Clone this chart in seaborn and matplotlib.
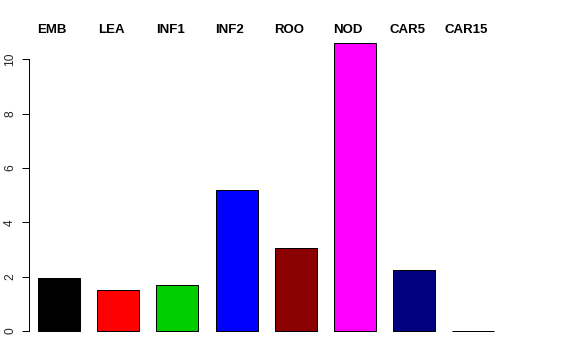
import matplotlib
matplotlib.use("Agg")
import matplotlib.pyplot as plt
import seaborn as sns
import pandas as pd

categories = ["EMB", "LEA", "INF1", "INF2", "ROO", "NOD", "CAR5", "CAR15"]
values = [1.95, 1.51, 1.69, 5.18, 3.05, 10.59, 2.23, 0.0]
colors = ["#000000", "#FF0000", "#00CD00", "#0000FF", "#8B0000", "#FF00FF", "#000080", "#BEBEBE"]
yticks = [0, 2, 4, 6, 8, 10]

sns.set_theme(style="white")
plt.rcParams['font.family'] = ['Liberation Sans', 'DejaVu Sans']

df = pd.DataFrame({"cat": categories, "val": values})

W, H = 576, 360
fig = plt.figure(figsize=(W / 72, H / 72), dpi=72)
left, right, top, bottom = 29, 560, 31.6, 342.5
ax = fig.add_axes([left / W, (H - bottom) / H, (right - left) / W, (bottom - top) / H])

sns.barplot(data=df, x="cat", y="val", hue="cat", palette=colors, dodge=False,
            width=0.71, edgecolor="#000000", linewidth=1.0, legend=False, ax=ax,
            saturation=1)

ax.set_xlim(-0.507, (right - left) / 59.2 - 0.507)
ax.set_ylim(-0.4236, 11.014)
for s in ["top", "right", "bottom"]:
    ax.spines[s].set_visible(False)
ax.spines["left"].set_bounds(0, 10)
ax.spines["left"].set_color("#000000")
ax.spines["left"].set_linewidth(1.0)
ax.set_xticks([])
ax.set_yticks(yticks)
ax.set_yticklabels([str(t) for t in yticks], rotation=90, va="center", fontsize=12)
ax.tick_params(axis="y", direction="out", length=7, width=1, color="#000000", left=True, pad=6)
ax.set_xlabel("")
ax.set_ylabel("")
ax.grid(False)

offset = 7 / 59.2
for i, c in enumerate(categories):
    ax.text(i - offset, 1 + (top - 29.7) / (bottom - top), c, transform=ax.get_xaxis_transform(),
            ha="center", va="center", fontsize=13.2, fontweight="bold", color="#000000",
            clip_on=False)

fig.savefig("out.png", dpi=72)
